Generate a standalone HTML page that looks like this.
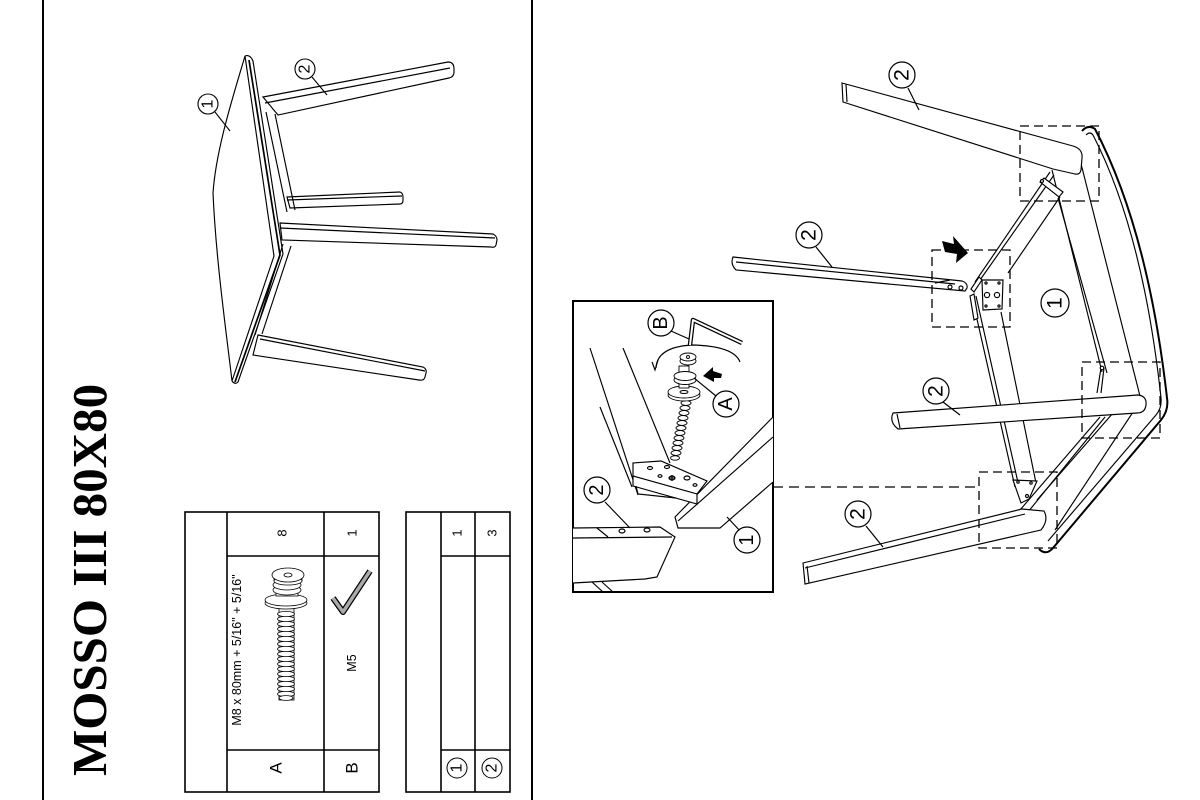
<!DOCTYPE html>
<html><head><meta charset="utf-8"><style>html,body{margin:0;padding:0;background:#fff}svg{display:block}</style></head>
<body>
<svg width="1200" height="800" viewBox="0 0 1200 800" xmlns="http://www.w3.org/2000/svg" font-family="Liberation Sans, Arial, sans-serif">
<rect width="1200" height="800" fill="#fff"/>
<!-- borders -->
<line x1="43" y1="0" x2="43" y2="800" stroke="#000" stroke-width="2"/>
<line x1="532" y1="0" x2="532" y2="800" stroke="#000" stroke-width="2"/>

<!-- title -->
<text transform="translate(106,776) rotate(-90)" font-family="Liberation Serif, serif" font-weight="bold" font-size="49">MOSSO III 80X80</text>

<!-- tables -->
<g fill="none" stroke="#000" stroke-width="1.6">
<rect x="185" y="512" width="194" height="280"/>
<line x1="227" y1="512" x2="227" y2="792"/>
<line x1="324" y1="512" x2="324" y2="792"/>
<line x1="227" y1="556" x2="379" y2="556"/>
<line x1="227" y1="750" x2="379" y2="750"/>
<rect x="406" y="512" width="104" height="280"/>
<line x1="441" y1="512" x2="441" y2="792"/>
<line x1="475" y1="512" x2="475" y2="792"/>
<line x1="441" y1="556" x2="510" y2="556"/>
<line x1="441" y1="750" x2="510" y2="750"/>
</g>
<g fill="#000" text-anchor="middle" dominant-baseline="central">
<text transform="translate(282,533) rotate(-90)" font-size="13">8</text>
<text transform="translate(352,533) rotate(-90)" font-size="13">1</text>
<text transform="translate(237,650) rotate(-90)" font-size="12.5">M8 x 80mm + 5/16" + 5/16"</text>
<text transform="translate(352,663) rotate(-90)" font-size="12.5">M5</text>
<text transform="translate(276,768) rotate(-90)" font-size="17">A</text>
<text transform="translate(352,768) rotate(-90)" font-size="17">B</text>
<text transform="translate(457,533) rotate(-90)" font-size="13">1</text>
<text transform="translate(492,533) rotate(-90)" font-size="13">3</text>
<text transform="translate(457,768) rotate(-90)" font-size="16">1</text>
<text transform="translate(492,768) rotate(-90)" font-size="16">2</text>
</g>
<circle cx="457" cy="768" r="10" fill="none" stroke="#000" stroke-width="1"/>
<circle cx="492" cy="768" r="10" fill="none" stroke="#000" stroke-width="1"/>

<!-- screw in parts list -->
<g stroke="#000" stroke-width="0.8" fill="#fff">
<rect x="279" y="608" width="15" height="92" fill="#eee"/>
<ellipse cx="286" cy="614" rx="8.5" ry="2.6"/><ellipse cx="286" cy="619" rx="8.5" ry="2.6"/><ellipse cx="286" cy="624" rx="8.5" ry="2.6"/>
<ellipse cx="286" cy="629" rx="8.5" ry="2.6"/><ellipse cx="286" cy="634" rx="8.5" ry="2.6"/><ellipse cx="286" cy="639" rx="8.5" ry="2.6"/>
<ellipse cx="286" cy="644" rx="8.5" ry="2.6"/><ellipse cx="286" cy="649" rx="8.5" ry="2.6"/><ellipse cx="286" cy="654" rx="8.5" ry="2.6"/>
<ellipse cx="286" cy="659" rx="8.5" ry="2.6"/><ellipse cx="286" cy="664" rx="8.5" ry="2.6"/><ellipse cx="286" cy="669" rx="8.5" ry="2.6"/>
<ellipse cx="286" cy="674" rx="8.5" ry="2.6"/><ellipse cx="286" cy="679" rx="8.5" ry="2.6"/><ellipse cx="286" cy="684" rx="8.5" ry="2.6"/>
<ellipse cx="286" cy="689" rx="8.5" ry="2.6"/><ellipse cx="286" cy="694" rx="8.5" ry="2.6"/><ellipse cx="286" cy="698" rx="7" ry="2.4"/>
<ellipse cx="286" cy="603" rx="21" ry="6"/>
<ellipse cx="286" cy="600" rx="21" ry="6"/>
<rect x="276" y="584" width="22" height="12"/>
<ellipse cx="287" cy="590" rx="14" ry="5"/>
<ellipse cx="287" cy="585" rx="14" ry="5"/>
<rect x="274" y="574" width="28" height="7"/>
<ellipse cx="288" cy="581" rx="14" ry="4"/>
<ellipse cx="288" cy="575" rx="16" ry="7"/>
<ellipse cx="288" cy="575" rx="4" ry="2"/>
</g>
<!-- hex key -->
<path d="M333,598 L343,612 L370,571" fill="none" stroke="#000" stroke-width="6" stroke-linejoin="round"/>
<path d="M333,598 L343,612 L370,571" fill="none" stroke="#aaa" stroke-width="3.5" stroke-linejoin="round"/>

<!-- ============ TOP-LEFT TABLE VIEW ============ -->
<g stroke="#000" stroke-width="1.15" fill="#fff">
<!-- legs -->
<path d="M263,97 L448,62 Q454,62 454,69 L454,72 Q454,77 449,78 L278,115 Z"/>
<line x1="265" y1="103" x2="450" y2="68"/>
<path d="M287,197 L400,192 Q403,193 403,197 L403,200 Q403,204 400,204 L290,208 Z"/>
<line x1="287" y1="200" x2="402" y2="196"/>
<path d="M280,223 L493,234 Q497,236 497,240 L496,245 Q495,248 491,247 L282,240 Z"/>
<line x1="280" y1="228" x2="495" y2="238"/>
<path d="M258,335 L423,367 Q427,369 426,373 L425,377 Q424,381 419,380 L253,355 Z"/>
<line x1="260" y1="339" x2="425" y2="371"/>
<!-- apron -->
<line x1="266" y1="112" x2="287" y2="212"/>
<line x1="275" y1="114" x2="295" y2="210"/>
<line x1="291" y1="246" x2="262" y2="334"/>
<line x1="283" y1="244" x2="255" y2="335"/>
<!-- top -->
<path d="M245,56 C232,100 216,150 213,193 C216,260 226,330 232,381 L274,256 Z"/>
<path d="M245,56 Q250,54 253,61 L283,254 L238,382 Q235,385 232,381" fill="none"/>
<path d="M249,60 L280,255 L235,382" fill="none" stroke-width="1.7"/>
</g>
<g fill="#fff" stroke="#000" stroke-width="1.1">
<circle cx="208" cy="104" r="10"/>
<circle cx="305" cy="69" r="10"/>
</g>
<line x1="215" y1="112" x2="230" y2="131" stroke="#000" stroke-width="1.1"/>
<line x1="312" y1="77" x2="327" y2="95" stroke="#000" stroke-width="1.1"/>
<g text-anchor="middle" dominant-baseline="central" font-size="16">
<text transform="translate(208,104) rotate(-90)">1</text>
<text transform="translate(305,69) rotate(-90)">2</text>
</g>

<!-- ============ INSET ============ -->
<rect x="573" y="301" width="200" height="291" fill="none" stroke="#000" stroke-width="2"/>
<g stroke="#000" stroke-width="1.15" fill="none">
<line x1="590" y1="348" x2="638" y2="495"/>
<line x1="623" y1="348" x2="670" y2="463"/>
<line x1="600" y1="407" x2="632" y2="487"/>
<!-- part 1 -->
<path d="M773,417 L675,517 L678,528 L720,528 L773,482" fill="#fff"/>
<line x1="678" y1="521" x2="773" y2="437"/>
<line x1="727" y1="517" x2="742" y2="533"/>
<!-- plate -->
<path d="M633,463 L661,461 L707,481 L697,494 L633,476 Z" fill="#fff"/>
<path d="M633,476 L697,494 L697,504 L633,486 Z" fill="#fff"/>
<path d="M636,486 L638,494 L676,498" />
<ellipse cx="650" cy="468" rx="2.5" ry="1.5"/>
<ellipse cx="667" cy="467" rx="2.5" ry="1.5"/>
<ellipse cx="672" cy="478" rx="3" ry="2"/>
<line x1="669" y1="478" x2="675" y2="478"/><line x1="672" y1="475" x2="672" y2="481"/>
<ellipse cx="687" cy="478" rx="3" ry="2"/>
<ellipse cx="695" cy="485" rx="2" ry="1.3"/>
<ellipse cx="660" cy="476" rx="2" ry="1.3"/>
<!-- part 2 -->
<path d="M573,528 L660,527 L675,537 L657,577 L645,579 L573,583" fill="#fff"/>
<line x1="573" y1="538" x2="672" y2="537"/>
<line x1="597" y1="528" x2="608" y2="537"/>
<ellipse cx="622" cy="531" rx="3" ry="2"/>
<ellipse cx="647" cy="530" rx="3" ry="2"/>
<line x1="605" y1="502" x2="630" y2="528"/>
<line x1="592" y1="582" x2="603" y2="592"/>
<line x1="602" y1="582" x2="613" y2="592"/>
<!-- screw -->
<g fill="#fff" stroke-width="0.9">
<ellipse cx="675" cy="458" rx="4.5" ry="2.2"/><ellipse cx="676" cy="453" rx="5" ry="2.4"/>
<ellipse cx="677" cy="448" rx="5" ry="2.4"/><ellipse cx="678" cy="443" rx="5" ry="2.4"/>
<ellipse cx="679" cy="438" rx="5" ry="2.4"/><ellipse cx="680" cy="433" rx="5" ry="2.4"/>
<ellipse cx="681" cy="428" rx="5" ry="2.4"/><ellipse cx="682" cy="423" rx="5" ry="2.4"/>
<ellipse cx="683" cy="418" rx="5" ry="2.4"/><ellipse cx="684" cy="413" rx="5" ry="2.4"/>
<ellipse cx="685" cy="408" rx="5" ry="2.4"/><ellipse cx="686" cy="403" rx="5" ry="2.4"/>
<ellipse cx="684" cy="395" rx="16" ry="6"/>
<ellipse cx="684" cy="392" rx="16" ry="6"/>
<ellipse cx="684" cy="392" rx="4" ry="1.5"/>
<rect x="679" y="366" width="10" height="22"/>
<ellipse cx="685" cy="380" rx="11" ry="4.5"/>
<ellipse cx="685" cy="376" rx="11" ry="4.5"/>
<ellipse cx="688" cy="361" rx="8" ry="4"/>
<ellipse cx="688" cy="357" rx="8" ry="4"/>
<circle cx="688" cy="357" r="1.5"/>
</g>
<path d="M656,368 Q657,347 692,345 Q734,346 740,362"/>
<path d="M658,360 L655,370 L652,362"/>
<polygon points="722,374 713,371 713,367 703,376 714,382 714,378 721,378" fill="#000" stroke="none"/>
<!-- hex key -->
<path d="M690,345 L693,320 L742,343" stroke-width="4.5" stroke-linejoin="round"/>
<path d="M690,345 L693,320 L742,343" stroke="#fff" stroke-width="2" stroke-linejoin="round"/>
<line x1="671" y1="331" x2="689" y2="339"/>
<line x1="716" y1="396" x2="694" y2="378"/>
</g>
<g fill="#fff" stroke="#000" stroke-width="1.2">
<circle cx="661" cy="323" r="13"/>
<circle cx="726" cy="404" r="13"/>
<circle cx="747" cy="540" r="13"/>
<circle cx="597" cy="490" r="13"/>
</g>
<g text-anchor="middle" dominant-baseline="central" font-size="20">
<text transform="translate(661,323) rotate(-90)">B</text>
<text transform="translate(726,404) rotate(-90)">A</text>
<text transform="translate(747,540) rotate(-90)">1</text>
<text transform="translate(597,490) rotate(-90)">2</text>
</g>
<line x1="773" y1="487" x2="979" y2="487" stroke="#000" stroke-width="1.2" stroke-dasharray="10,6"/>

<!-- ============ RIGHT MAIN VIEW ============ -->
<g stroke="#000" stroke-width="1.15" fill="none">
<!-- tabletop edge -->
<path d="M1082,131 Q1088,124 1095,129 Q1148,230 1167,398 Q1169,410 1161,420 L1053,548 Q1046,556 1039,549" stroke-width="2"/>
<path d="M1086,135 Q1090,131 1093,135 Q1143,232 1161,398 Q1162,408 1156,415 L1048,541"/>
<path d="M1077,148 L1141,400 L1055,530"/>
<!-- apron T-L -->
<line x1="1050" y1="172" x2="975" y2="282"/>
<line x1="1054" y1="175" x2="980" y2="280"/>
<line x1="1060" y1="197" x2="1008" y2="273"/>
<!-- apron L-B -->
<line x1="972" y1="297" x2="1015" y2="487"/>
<line x1="976" y1="296" x2="1019" y2="487"/>
<line x1="1001" y1="312" x2="1036" y2="483"/>
<!-- apron T-R -->
<line x1="1052" y1="170" x2="1102" y2="372"/>
<line x1="1058" y1="198" x2="1107" y2="373"/>
<!-- apron B-R -->
<line x1="1020" y1="510" x2="1100" y2="417"/>
<line x1="1028" y1="512" x2="1105" y2="417"/>
<line x1="1037" y1="500" x2="1120" y2="405"/>
</g>
<g stroke="#000" stroke-width="1.15" fill="#fff">
<!-- brackets -->
<polygon points="1040,182 1044,178 1063,192 1059,197"/>
<circle cx="1042" cy="181" r="1.5"/>
<path d="M1101,368 L1097,393 M1104,368 L1101,393" fill="none"/>
<circle cx="1102" cy="368" r="1.8"/>
<polygon points="1013,480 1037,481 1029,499 1021,503"/>
<circle cx="1018" cy="482" r="1.2"/><circle cx="1031" cy="483" r="1.2"/><circle cx="1027" cy="496" r="1.5"/>
<polygon points="971,289 979,277 982,280 974,292"/>
<polygon points="970,296 974,294 978,318 974,320"/>
<polygon points="982,280 1003,280 1002,309 983,310"/>
<circle cx="986" cy="283" r="1.1"/><circle cx="999" cy="283" r="1.1"/>
<circle cx="986" cy="306" r="1.1"/><circle cx="999" cy="306" r="1.1"/>
<circle cx="987" cy="295" r="2.6"/><circle cx="997" cy="295" r="2.6"/>
<!-- legs -->
<path d="M842,83 L1073,146 Q1083,149 1082,158 L1081,170 Q1080,175 1075,174 L1053,169 L843,102 Z"/>
<line x1="846" y1="84" x2="847" y2="102"/>
<path d="M733,257 L962,281 Q968,283 967,288 L965,291 L736,270 Q730,264 733,257 Z"/>
<line x1="736" y1="262" x2="955" y2="284"/>
<line x1="935" y1="283" x2="950" y2="280"/>
<circle cx="950" cy="287" r="2"/><circle cx="961" cy="288" r="2"/>
<path d="M893,413 L1138,395 Q1147,396 1146,405 Q1145,413 1137,413 L898,429 Q889,422 893,413 Z"/>
<line x1="897" y1="414" x2="900" y2="428"/>
<path d="M803,563 L1022,509 L1044,511 Q1049,520 1041,530 L805,584 Z"/>
<line x1="805" y1="568" x2="1025" y2="514"/>
<line x1="807" y1="566" x2="809" y2="583"/>
</g>
<!-- dashed boxes -->
<g fill="none" stroke="#000" stroke-width="1.3" stroke-dasharray="9,5">
<rect x="1020" y="126" width="79" height="75"/>
<rect x="932" y="250" width="78" height="77"/>
<rect x="1082" y="362" width="78" height="76"/>
<rect x="979" y="472" width="78" height="76"/>
</g>
<!-- arrow -->
<polygon points="942,241 954,244 953,236 968,253 956,263 957,254 945,252" fill="#000"/>
<!-- leaders & labels -->
<g stroke="#000" stroke-width="1.2">
<line x1="908" y1="88" x2="919" y2="110"/>
<line x1="816" y1="247" x2="832" y2="267"/>
<line x1="943" y1="402" x2="960" y2="415"/>
<line x1="866" y1="526" x2="883" y2="547"/>
</g>
<g fill="#fff" stroke="#000" stroke-width="1.2">
<circle cx="902" cy="75" r="13"/>
<circle cx="809" cy="235" r="13"/>
<circle cx="936" cy="391" r="13"/>
<circle cx="858" cy="514" r="13"/>
<circle cx="1055" cy="303" r="14"/>
</g>
<g text-anchor="middle" dominant-baseline="central" font-size="21">
<text transform="translate(902,75) rotate(-90)">2</text>
<text transform="translate(809,235) rotate(-90)">2</text>
<text transform="translate(936,391) rotate(-90)">2</text>
<text transform="translate(858,514) rotate(-90)">2</text>
<text transform="translate(1055,303) rotate(-90)">1</text>
</g>
</svg>
</body></html>
